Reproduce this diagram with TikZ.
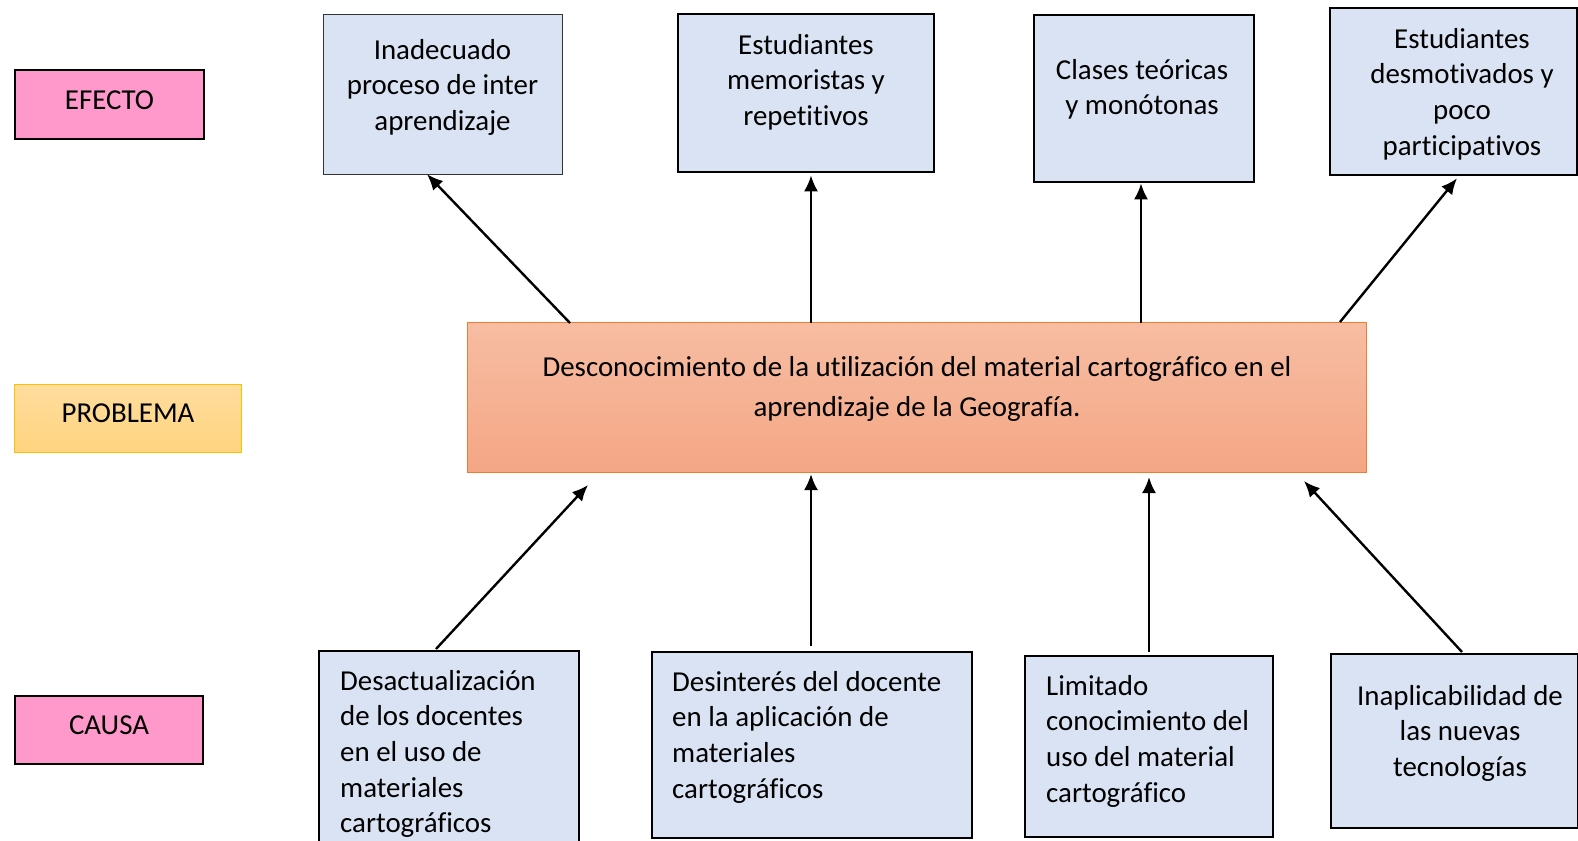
\documentclass[tikz,border=0pt]{standalone}
\usepackage{fontspec}
\setmainfont{Carlito}[RawFeature={-liga;-clig;-calt}]
\usetikzlibrary{calc,arrows.meta}
\definecolor{boxblue}{HTML}{DAE3F3}
\definecolor{pinkl}{HTML}{FF99CC}
\definecolor{probtop}{HTML}{F7BDA3}
\definecolor{probbot}{HTML}{F4A684}
\definecolor{probedge}{HTML}{ED7D31}
\definecolor{yeltop}{HTML}{FFDD9E}
\definecolor{yelbot}{HTML}{FFD47F}
\definecolor{yeledge}{HTML}{FFC000}
\newcommand{\fstrut}{\rule{0pt}{22bp}}
\tikzset{
  txt/.style={font=\fontsize{29}{35.8}\selectfont, inner sep=0pt},
  bluebox/.style={draw=black, line width=2.3bp, fill=boxblue, anchor=north west, inner sep=0pt},
  tag/.style={font=\fontsize{29}{35.8}\selectfont, draw=black, line width=2.5bp, fill=pinkl, inner sep=0pt, text height=20bp, text depth=11bp},
  arr/.style={line width=2.4bp, -{Latex[length=16bp,width=14bp]}},
}
\begin{document}
\begin{tikzpicture}[x=1bp,y=-1bp]
\useasboundingbox (0,0) rectangle (1578,840);
% left labels
\node[tag, minimum width=189bp, minimum height=69bp] (lefecto) at (109.5,104.5) {EFECTO};
\node[font=\fontsize{29}{35.8}\selectfont, draw=yeledge, line width=1bp, top color=yeltop, bottom color=yelbot, inner sep=0pt, text height=20bp, text depth=11bp, minimum width=226bp, minimum height=68bp] (lprob) at (128,418) {PROBLEMA};
\node[tag, minimum width=188bp, minimum height=68bp] (lcausa) at (109,730) {CAUSA};
% problem
\node[draw=probedge, line width=1bp, top color=probtop, bottom color=probbot, anchor=north west, inner sep=0pt, minimum width=899bp, minimum height=150bp] (p) at (467,322) {};
\node[font=\fontsize{29}{40.5}\selectfont, inner sep=0pt, anchor=north, align=center] (pt) at (917,354) {\fstrut Desconocimiento de la utilización del material cartográfico en el\\aprendizaje de la Geografía.};
% effects
\node[bluebox, draw=black!80, line width=1.2bp, minimum width=239bp, minimum height=160bp] (e1) at (323,14) {};
\node[bluebox, minimum width=256bp, minimum height=158bp] (e2) at (677,13) {};
\node[bluebox, minimum width=220bp, minimum height=167bp] (e3) at (1033,14) {};
\node[bluebox, minimum width=247bp, minimum height=167bp] (e4) at (1329,7) {};
\node[txt, anchor=north, align=center] (te1) at (442.5,37) {\fstrut Inadecuado\\proceso de inter\\aprendizaje};
\node[txt, anchor=north, align=center] (te2) at (806,32) {\fstrut Estudiantes\\memoristas y\\repetitivos};
\node[txt, anchor=north, align=center] (te3) at (1142,57) {\fstrut Clases teóricas\\y monótonas};
\node[txt, anchor=north, align=center] (te4) at (1462,26) {\fstrut Estudiantes\\desmotivados y\\poco\\participativos};
% causes
\node[bluebox, minimum width=260bp, minimum height=200bp] (c1) at (318,650) {};
\node[bluebox, minimum width=320bp, minimum height=186bp] (c2) at (651,651) {};
\node[bluebox, minimum width=248bp, minimum height=181bp] (c3) at (1024,655) {};
\node[bluebox, minimum width=247bp, minimum height=174bp] (c4) at (1330,653) {};
\node[txt, anchor=north west, align=left] (tc1) at (340,668) {\fstrut Desactualización\\de los docentes\\en el uso de\\materiales\\cartográficos};
\node[txt, anchor=north west, align=left] (tc2) at (672,669) {\fstrut Desinterés del docente\\en la aplicación de\\materiales\\cartográficos};
\node[txt, anchor=north west, align=left] (tc3) at (1046,673) {\fstrut Limitado\\conocimiento del\\uso del material\\cartográfico};
\node[txt, anchor=north, align=center] (tc4) at (1460,683) {\fstrut Inaplicabilidad de\\las nuevas\\tecnologías};
% arrows: problem -> effects
\draw[arr] ($(p.north west)+(103,1)$) -- ($(e1.south west)+(104,-1)$);
\draw[arr] ($(p.north west)+(344,1)$) -- ($(e2.south west)+(134,2)$);
\draw[arr] ($(p.north west)+(674,1)$) -- ($(e3.south west)+(108,0)$);
\draw[arr] ($(p.north west)+(873,0)$) -- ($(e4.south west)+(128,2)$);
% arrows: causes -> problem
\draw[arr] ($(c1.north west)+(118,-1)$) -- ($(p.south west)+(121,12)$);
\draw[arr] ($(c2.north west)+(160,-5)$) -- ($(p.south west)+(344,1)$);
\draw[arr] ($(c3.north west)+(125,-3)$) -- ($(p.south west)+(682,4)$);
\draw[arr] ($(c4.north west)+(132,-1)$) -- ($(p.south west)+(837,8)$);
\end{tikzpicture}
\end{document}
